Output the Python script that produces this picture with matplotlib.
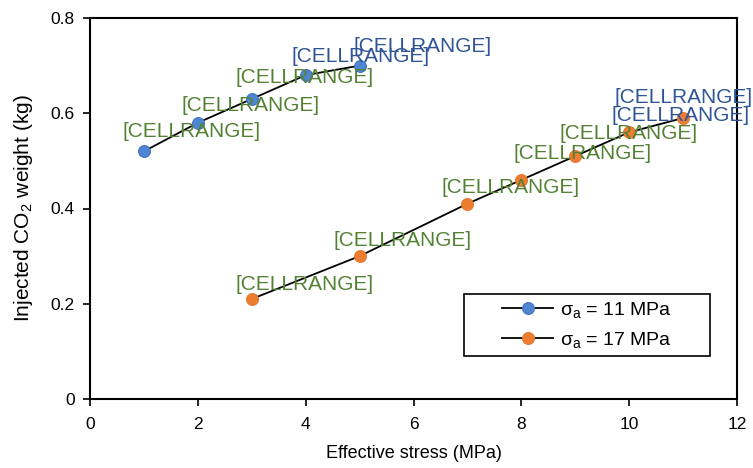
import matplotlib.pyplot as plt
from matplotlib.patches import Rectangle

plt.rcParams['font.family'] = ['Liberation Sans', 'DejaVu Sans']
plt.rcParams['mathtext.fontset'] = 'custom'
plt.rcParams['mathtext.rm'] = 'Liberation Sans'

# effective stress (MPa) vs injected CO2 weight (kg)
stress_11 = [1, 2, 3, 4, 5]
weight_11 = [0.52, 0.58, 0.63, 0.68, 0.70]

stress_17 = [3, 5, 7, 8, 9, 10, 11]
weight_17 = [0.21, 0.30, 0.41, 0.46, 0.51, 0.56, 0.59]

label_text = '[CELLRANGE]'
series_names = [r'$\mathregular{σ_a}$ = 11 MPa', r'$\mathregular{σ_a}$ = 17 MPa']

xticks = [0, 2, 4, 6, 8, 10, 12]
yticks = [0, 0.2, 0.4, 0.6, 0.8]
ytick_labels = ['0', '0.2', '0.4', '0.6', '0.8']

green = '#548235'
darkblue = '#2F5597'

# label placement (offset in pixels from the marker) and colour
offsets_11 = [(48, 20), (53, 17), (53, 21), (55, 19), (63, 19)]
colors_11 = [green, green, green, darkblue, darkblue]
offsets_17 = [(53, 14), (43, 16), (43, 16), (61, 26), (53, 23), (51, 17), (0, 21)]
colors_17 = [green, green, green, green, green, darkblue, darkblue]

fig = plt.figure(figsize=(7.53, 4.68), dpi=100)
ax = fig.add_axes([90 / 753, 69 / 468, 647 / 753, 381 / 468])

ax.plot(stress_11, weight_11, color='black', lw=1.3, marker='o', ms=8.5,
        mfc='#4F86D4', mec='#4272BE', mew=0.8, label=series_names[0], zorder=3)
ax.plot(stress_17, weight_17, color='black', lw=1.3, marker='o', ms=8.5,
        mfc='#ED7D31', mec='#E3762C', mew=0.8, label=series_names[1], zorder=3)

px = 0.72
for xs, ys, offs, cols in [(stress_11, weight_11, offsets_11, colors_11),
                           (stress_17, weight_17, offsets_17, colors_17)]:
    for x, y, (dx, dy), c in zip(xs, ys, offs, cols):
        ax.annotate(label_text, (x, y), xytext=(dx * px, dy * px),
                    textcoords='offset points', ha='center', va='center',
                    fontsize=15, color=c, zorder=4)

ax.set_xlim(0, 12)
ax.set_ylim(0, 0.8)
ax.set_xticks(xticks)
ax.set_yticks(yticks)
ax.set_yticklabels(ytick_labels)
ax.tick_params(direction='out', length=5, width=1.2, labelsize=12.5, pad=6)
ax.tick_params(axis='x', pad=8)
for s in ax.spines.values():
    s.set_linewidth(1.5)

ax.set_xlabel('Effective stress (MPa)', fontsize=13, labelpad=9)
ax.set_ylabel(r'Injected CO$_\mathregular{2}$ weight (kg)', fontsize=15, labelpad=11)

# legend frame drawn as a plain box, entries centred inside it
box = (0.578, 0.113, 0.380, 0.163)
ax.add_patch(Rectangle(box[:2], box[2], box[3], transform=ax.transAxes,
                       facecolor='white', edgecolor='black', lw=1.2, zorder=5))
leg = ax.legend(loc='center', bbox_to_anchor=(box[0] + box[2] / 2, box[1] + box[3] / 2),
                fontsize=14, frameon=False, handlelength=2.6, handletextpad=0.35,
                borderpad=0, labelspacing=0.5)
leg.set_zorder(6)

fig.savefig('out.png', dpi=100)
